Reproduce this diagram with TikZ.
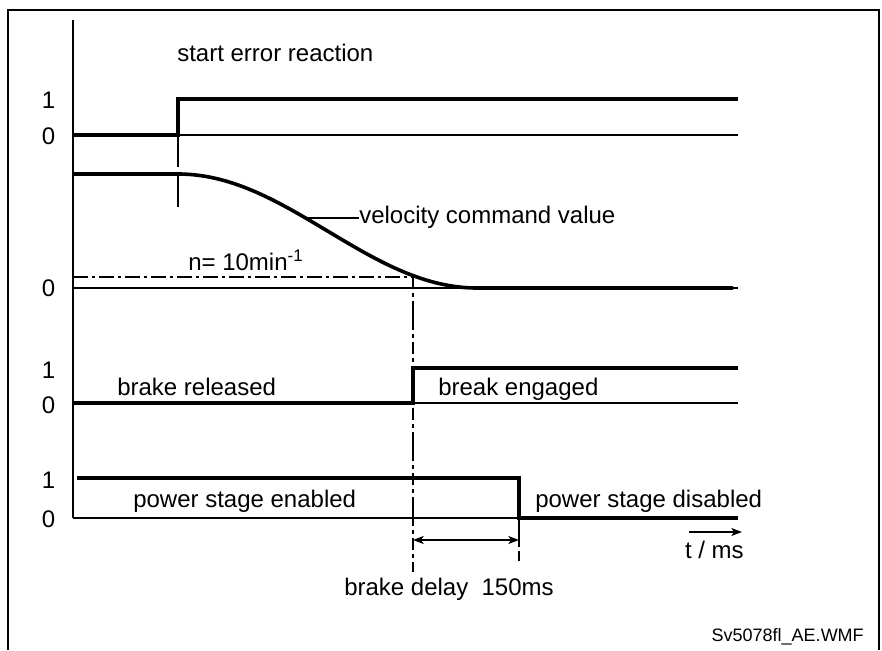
\documentclass[tikz,border=0pt]{standalone}
\usepackage{fontspec}
\setmainfont{Liberation Sans}
\usetikzlibrary{arrows.meta}
\tikzset{
  sigthin/.style={line width=1.2pt},
  sigthick/.style={line width=2.7pt},
  frameline/.style={line width=1.5pt},
  markline/.style={line width=0.9pt},
  lbl/.style={inner sep=0pt, anchor=base west, font=\fontsize{18}{21}\selectfont},
  lvl/.style={inner sep=0pt, anchor=base, font=\fontsize{18}{21}\selectfont},
  small/.style={inner sep=0pt, anchor=base east, font=\fontsize{13.5}{16}\selectfont},
  tip/.style={-{Stealth[length=8pt,width=6pt,inset=2pt]}},
}
\begin{document}
\begin{tikzpicture}[x=0.75pt,y=-0.75pt]
\useasboundingbox (0,0) rectangle (882,650);
% frame
\draw[frameline] (8,650) -- (8,10) -- (879,10) -- (879,650);
% time axis
\draw[sigthin] (73,20) -- (73,518);

% ---- signal 1: start error reaction
\node[lbl] (ser) at (177,61) {start error reaction};
\node[lvl] (a1) at (48.5,108) {1};
\node[lvl] (a0) at (48.5,144) {0};
\draw[sigthin] (73,135) -- (738,135);
\draw[sigthick] (73,135) -- (178,135) -- (178,99) -- (738,99);
\draw[markline, dash pattern=on 24pt off 4pt on 27pt] (178,135) -- (178,207);

% ---- velocity command value
\node[lvl] (v0) at (48.5,296) {0};
\draw[sigthin] (73,288) -- (738,288);
\draw[sigthick] (73,174) -- (178,174)
  plot[domain=0:1, samples=80] ({178+299*\x},{174+114*(1-cos(180*\x))/2})
  -- (733,288);
\node[lbl] (vcv) at (359,223) {velocity command value};
\coordinate (vpt) at (305,218);
\draw[sigthin] (vpt) -- (vcv.west |- vpt);
\node[lbl] (nlab) at (188,270) {n= 10min\textsuperscript{-1}};
\draw[sigthin, dash pattern=on 11pt off 3pt on 2.5pt off 3pt] (73,277) -- (413,277);
\draw[markline, dash pattern=on 9pt off 3pt on 3pt off 3pt on 22pt off 3pt on 3pt off 3pt] (413,277) -- (413,572);

% ---- brake
\node[lvl] (b1) at (48.5,378) {1};
\node[lvl] (b0) at (48.5,413) {0};
\draw[sigthin] (73,403) -- (738,403);
\draw[sigthick] (73,403) -- (413,403) -- (413,368) -- (738,368);
\node[lbl] (brel) at (117,395) {brake released};
\node[lbl] (beng) at (438,395) {break engaged};

% ---- power stage
\node[lvl] (p1) at (48.5,488) {1};
\node[lvl] (p0) at (48.5,527) {0};
\draw[sigthin] (73,518) -- (738,518);
\draw[sigthick] (77,478) -- (519,478) -- (519,518) -- (738,518);
\node[lbl] (pen) at (133,507) {power stage enabled};
\node[lbl] (pdis) at (535,507) {power stage disabled};
\draw[markline, dash pattern=on 22pt off 3pt on 7pt] (519,518) -- (519,562);

% ---- brake delay
\coordinate (d1) at (413,540);
\coordinate (d2) at (519,540);
\draw[sigthin, {Stealth[length=8pt,width=6pt,inset=2pt]}-{Stealth[length=8pt,width=6pt,inset=2pt]}] (d1) -- (d2);
\node[lbl] (bdel) at (344,595) {brake delay\ \ 150ms};

% ---- time arrow
\node[lbl, anchor=base east] (tms) at (744,558) {t / ms};
\coordinate (t1) at (689,532);
\coordinate (t2) at (742,532);
\draw[sigthin, tip] (t1) -- (t2);

\node[small] (fn) at (864,641) {Sv5078fl\_AE.WMF};
\end{tikzpicture}
\end{document}
